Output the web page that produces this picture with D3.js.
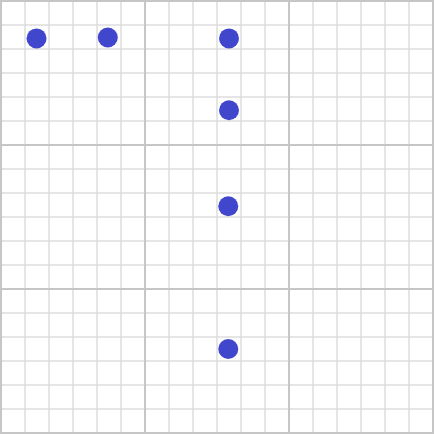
<!DOCTYPE html>
<html>
<head>
<meta charset="utf-8">
<script src="https://cdn.jsdelivr.net/npm/d3@7"></script>
<style>
html,body{margin:0;padding:0;background:#fff;overflow:hidden;}
svg{display:block;}
</style>
</head>
<body>
<script>
// data (grid units, y measured from top)
const xValues = [1.48, 4.45, 9.5, 9.5, 9.47, 9.47];
const yValues = [1.56, 1.52, 1.56, 4.5, 8.55, 14.5].map((v, i) => i === 3 ? 4.55 : v);
const gridMax = 18;
const majorEvery = 6;

const W = 434, H = 434;
const svg = d3.select("body").append("svg").attr("width", W).attr("height", H);

const x = d3.scaleLinear().domain([0, gridMax]).range([1, 433]);
const y = d3.scaleLinear().domain([0, gridMax]).range([1, 433]);

const ticks = d3.range(0, gridMax + 1);
const minor = ticks.filter(t => t % majorEvery !== 0);
const major = ticks.filter(t => t % majorEvery === 0);

const g = svg.append("g");
function drawLines(list, color, width) {
  g.selectAll(null).data(list).enter().append("line")
    .attr("x1", d => x(d)).attr("x2", d => x(d))
    .attr("y1", 0).attr("y2", H)
    .attr("stroke", color).attr("stroke-width", width);
  g.selectAll(null).data(list).enter().append("line")
    .attr("y1", d => y(d)).attr("y2", d => y(d))
    .attr("x1", 0).attr("x2", W)
    .attr("stroke", color).attr("stroke-width", width);
}
drawLines(minor, "#dcdcdc", 1.5);
drawLines(major, "#c6c6c6", 2);

svg.append("g").selectAll("circle")
  .data(xValues.map((v, i) => [v, yValues[i]]))
  .enter().append("circle")
  .attr("cx", d => x(d[0]))
  .attr("cy", d => y(d[1]))
  .attr("r", 10)
  .attr("fill", "#4047cc");
</script>
</body>
</html>
